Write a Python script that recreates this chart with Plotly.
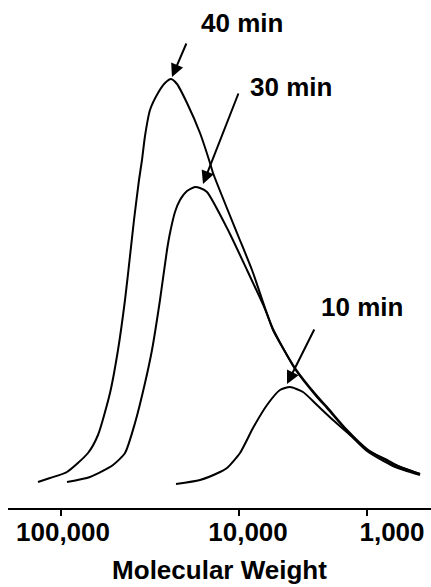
import plotly.graph_objects as go

# x: elution position (arbitrary units), y: detector response (arbitrary units)
x_40 = [3.8, 5.0, 6.7, 8.8, 9.8, 11.0, 11.8, 12.5, 13.0, 13.4, 13.9, 14.2, 14.5, 15.0, 15.8, 16.5, 17.1,
        17.7, 18.7, 20.0, 21.0, 21.3, 23.7, 25.2, 26.5, 27.3, 29.5, 31.7, 32.7, 34.7, 36.7, 39.3, 42.0]
y_40 = [6.5, 7.5, 9.0, 13.75, 18.25, 28.75, 39.5, 52.0, 63.0, 72.0, 82.0, 87.0, 93.0, 99.5, 103.75, 106.25, 107.25,
        106.0, 101.25, 93.75, 86.25, 83.75, 68.75, 59.5, 50.0, 44.5, 35.0, 28.0, 25.25, 19.5, 14.75, 11.0, 8.5]

x_30 = [6.7, 9.0, 11.3, 12.5, 13.5, 14.5, 15.2, 16.0, 16.7, 17.0, 17.5, 18.0, 18.7, 19.5,
        20.0, 20.7, 22.8, 24.7, 26.5, 27.3, 29.5, 31.7, 32.7, 34.7, 36.7, 39.3, 42.0]
y_30 = [6.5, 7.75, 10.75, 13.75, 21.25, 31.25, 39.5, 52.0, 64.5, 68.75, 74.0, 77.0, 79.25, 80.25,
        80.0, 79.0, 69.5, 59.5, 49.75, 44.75, 34.75, 27.75, 25.0, 19.25, 14.25, 10.5, 8.25]

x_10 = [17.6, 20.0, 22.0, 22.7, 24.0, 25.3, 26.7, 28.0, 29.0, 30.3, 31.7, 33.3, 35.0,
        36.7, 38.7, 40.0, 42.0]
y_10 = [6.0, 7.0, 9.0, 10.0, 13.75, 20.0, 25.75, 29.5, 30.25, 29.0, 25.75, 22.0, 18.25,
        14.5, 12.0, 10.25, 8.5]

tick_pos = [6.1, 23.9, 36.7]
label_pos = [6.3, 24.8, 39.2]
tick_text = ["100,000", "10,000", "1,000"]

series_names = ["40 min", "30 min", "10 min"]
# annotation: (text x, text y, arrow tail x, tail y, arrow tip x, tip y)
labels = [
    (24.2, 121.25, 18.7, 116.5, 17.2, 107.75),
    (29.1, 105.25, 23.9, 104.0, 20.3, 81.0),
    (36.2, 50.25, 31.5, 45.0, 28.7, 31.0),
]

FONT = "Liberation Sans, Arial, sans-serif"

fig = go.Figure()
for xs, ys, nm in [(x_40, y_40, series_names[0]), (x_30, y_30, series_names[1]), (x_10, y_10, series_names[2])]:
    fig.add_trace(go.Scatter(x=xs, y=ys, mode="lines", name=nm,
                             line=dict(color="black", width=2, shape="spline", smoothing=0.6),
                             showlegend=False, hoverinfo="skip"))

# invisible trace for label axis
fig.add_trace(go.Scatter(x=label_pos, y=[0, 0, 0], xaxis="x2", mode="markers",
                         marker=dict(opacity=0), showlegend=False, hoverinfo="skip"))

for nm, (tx, ty, ax_, ay_, px, py) in zip(series_names, labels):
    fig.add_annotation(x=px, y=py, ax=ax_, ay=ay_, axref="x", ayref="y", xref="x", yref="y",
                       text="", showarrow=True, arrowhead=2, arrowsize=1.3, arrowwidth=2,
                       arrowcolor="black")
    fig.add_annotation(x=tx, y=ty, xref="x", yref="y", text=nm, showarrow=False,
                       font=dict(family=FONT, size=26, color="black", weight="bold"))

fig.update_layout(
    width=431, height=587,
    margin=dict(l=8, r=0, t=0, b=79),
    paper_bgcolor="white", plot_bgcolor="white",
    xaxis=dict(range=[0.8, 43.1], showgrid=False, zeroline=False,
               showline=True, linecolor="black", linewidth=2,
               tickvals=tick_pos, ticks="outside", ticklen=6, tickwidth=2, tickcolor="black",
               showticklabels=False,
               title=dict(text="Molecular Weight", standoff=46,
                          font=dict(family=FONT, size=26, color="black", weight="bold"))),
    xaxis2=dict(range=[0.8, 43.1], overlaying="x", side="bottom", anchor="y",
                showgrid=False, zeroline=False, showline=False,
                tickvals=label_pos, ticktext=tick_text, ticks="", ticklabelstandoff=6,
                tickfont=dict(family=FONT, size=26, color="black", weight="bold")),
    yaxis=dict(range=[0, 127], visible=False),
)

fig.write_html("out.html")
